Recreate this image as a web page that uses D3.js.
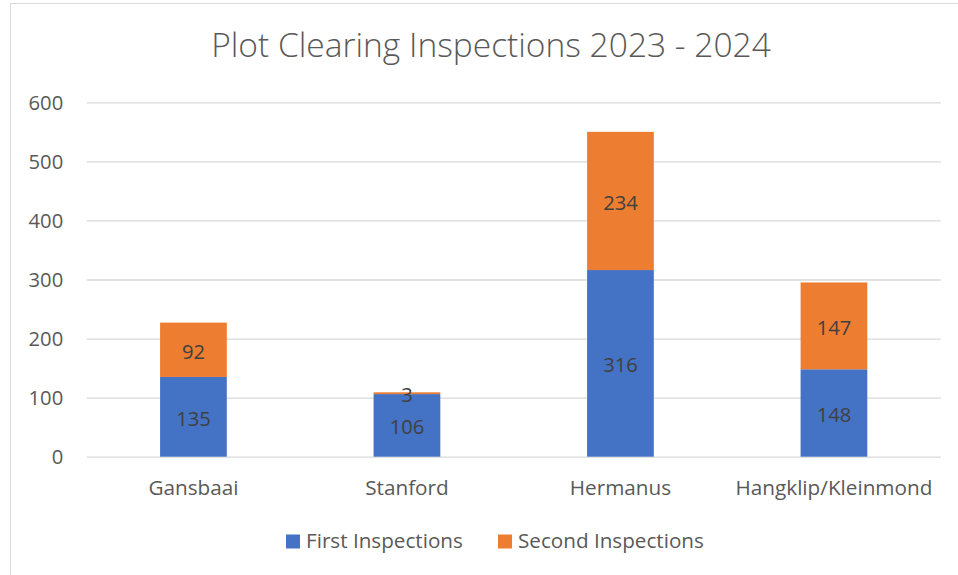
<!DOCTYPE html>
<html><head><meta charset="utf-8">
<script src="https://cdn.jsdelivr.net/npm/d3@7"></script>
<style>body{margin:0;background:#fff;} text{font-family:"Open Sans",sans-serif;}</style>
</head><body>
<svg id="c" width="958" height="575"></svg>
<script>
const categories = ["Gansbaai", "Stanford", "Hermanus", "Hangklip/Kleinmond"];
const firstInspections = [135, 106, 316, 148];
const secondInspections = [92, 3, 234, 147];
const seriesNames = ["First Inspections", "Second Inspections"];
const yTicks = [0, 100, 200, 300, 400, 500, 600];
const titleText = "Plot Clearing Inspections 2023 - 2024";

const colors = ["#4472C4", "#ED7D31"];
const svg = d3.select("#c");
const m = {left: 86.7, right: 940.7, top: 102.3, bottom: 456.7};

svg.append("rect").attr("x", 10.5).attr("y", 3.5).attr("width", 1000).attr("height", 1000)
  .attr("fill", "none").attr("stroke", "#D9D9D9").attr("stroke-width", 1);

function fit(sel, target) {
  const w = sel.node().getComputedTextLength();
  const fs = parseFloat(sel.attr("font-size"));
  return fs * target / w;
}

const x = d3.scaleBand().domain(categories).range([m.left, m.right]).paddingInner(0.6875).paddingOuter(0.34375);
const y = d3.scaleLinear().domain([0, 600]).range([m.bottom, m.top]);

const t = svg.append("text").attr("x", 491).attr("y", 56.7).attr("text-anchor", "middle")
  .attr("font-size", 30).attr("fill", "#595959").attr("font-weight", 300).text(titleText);
t.attr("font-size", fit(t, 560));

const grid = svg.append("g").attr("transform", `translate(${m.left},0)`)
  .call(d3.axisLeft(y).tickValues(yTicks).tickSize(-(m.right - m.left)).tickFormat(""));
grid.select(".domain").remove();
grid.selectAll("line").attr("stroke", "#D9D9D9").attr("stroke-width", 1.3);

const ya = svg.append("g").attr("transform", `translate(${m.left - 23.5},0)`)
  .call(d3.axisLeft(y).tickValues(yTicks).tickSize(0).tickPadding(0));
ya.select(".domain").remove();
ya.selectAll("text").attr("font-size", 20.2).attr("fill", "#595959").attr("font-family", '"Open Sans",sans-serif').attr("dy", "0.36em");

const rows = categories.map((c, i) => ({cat: c, a: firstInspections[i], b: secondInspections[i]}));
const stack = d3.stack().keys(["a", "b"])(rows);
const g = svg.append("g");
stack.forEach((s, si) => {
  g.selectAll(null).data(s).enter().append("rect")
    .attr("x", d => x(d.data.cat)).attr("width", x.bandwidth())
    .attr("y", d => y(d[1])).attr("height", d => y(d[0]) - y(d[1]))
    .attr("fill", colors[si]);
});
stack.forEach((s, si) => {
  g.selectAll(null).data(s).enter().append("text")
    .attr("x", d => x(d.data.cat) + x.bandwidth() / 2)
    .attr("y", d => (y(d[0]) + y(d[1])) / 2 + 1.5).attr("dy", "0.36em")
    .attr("text-anchor", "middle").attr("font-size", 20.2).attr("fill", "#404040")
    .text(d => d[1] - d[0]);
});

const xa = svg.append("g").attr("transform", `translate(0,${m.bottom})`)
  .call(d3.axisBottom(x).tickSize(0).tickPadding(0));
xa.select(".domain").remove();
xa.selectAll("text").attr("font-size", 19).attr("fill", "#595959").attr("font-family", '"Open Sans",sans-serif')
  .attr("dy", 0).attr("y", 38.5);
const ref = xa.selectAll("text").filter(d => d === "Hangklip/Kleinmond");
const fsX = fit(ref, 197);
xa.selectAll("text").attr("font-size", fsX);

const lg = svg.append("g");
const legX = [286, 498];
seriesNames.forEach((n, i) => {
  lg.append("rect").attr("x", legX[i]).attr("y", 534.5).attr("width", 14).attr("height", 14).attr("fill", colors[i]);
  lg.append("text").attr("x", legX[i] + 20).attr("y", 548).attr("font-size", 19)
    .attr("fill", "#595959").text(n);
});
const l0 = lg.selectAll("text").filter((d, i) => i === 0);
const fsL = fit(l0, 157);
lg.selectAll("text").attr("font-size", fsL);
</script>
</body></html>
